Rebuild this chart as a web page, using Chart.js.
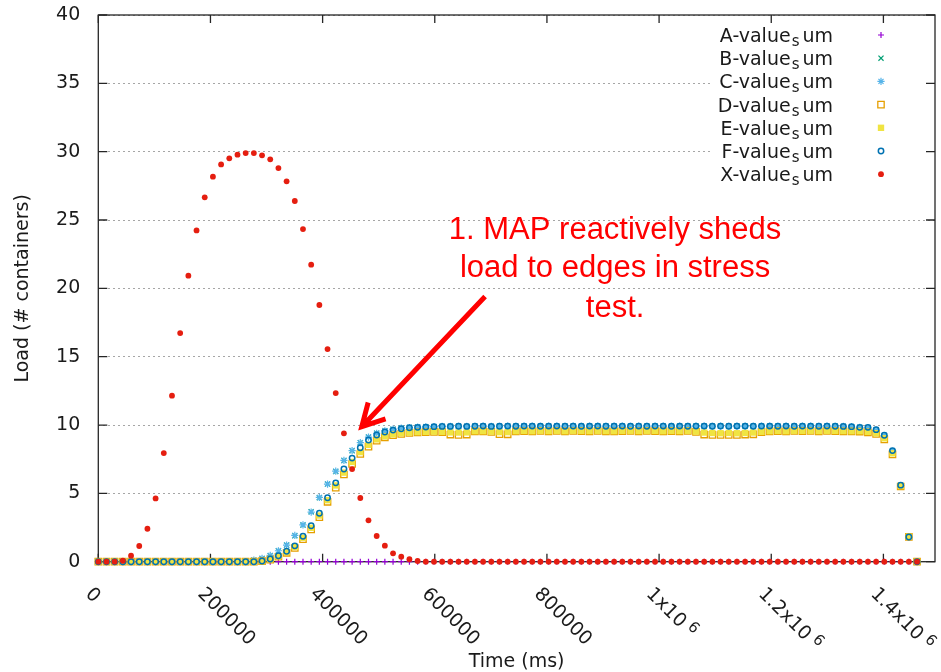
<!DOCTYPE html>
<html>
<head>
<meta charset="utf-8">
<title>Load (# containers) over time</title>
<script src="https://cdn.jsdelivr.net/npm/chart.js@4.4.1/dist/chart.umd.min.js"></script>
<style>
  html, body { margin: 0; padding: 0; background: #fff; }
  #chartWrap { width: 941px; height: 672px; }
</style>
</head>
<body>
<div id="chartWrap"><canvas id="loadChart" width="941" height="672"></canvas></div>
<script>
// sample times (ms)
const timeMs = [
  0, 14600, 29200, 43800, 58400, 73000, 87600, 102200, 116800, 131400,
  146000, 160600, 175200, 189800, 204400, 219000, 233600, 248200, 262800, 277400,
  292000, 306600, 321200, 335800, 350400, 365000, 379600, 394200, 408800, 423400,
  438000, 452600, 467200, 481800, 496400, 511000, 525600, 540200, 554800, 569400,
  584000, 598600, 613200, 627800, 642400, 657000, 671600, 686200, 700800, 715400,
  730000, 744600, 759200, 773800, 788400, 803000, 817600, 832200, 846800, 861400,
  876000, 890600, 905200, 919800, 934400, 949000, 963600, 978200, 992800, 1007400,
  1022000, 1036600, 1051200, 1065800, 1080400, 1095000, 1109600, 1124200, 1138800, 1153400,
  1168000, 1182600, 1197200, 1211800, 1226400, 1241000, 1255600, 1270200, 1284800, 1299400,
  1314000, 1328600, 1343200, 1357800, 1372400, 1387000, 1401600, 1416200, 1430800, 1445400,
  1460000
];

const aSum = [
  0, 0, 0, 0, 0, 0, 0, 0, 0, 0,
  0, 0, 0, 0, 0, 0, 0, 0, 0, 0,
  0, 0, 0, 0, 0, 0, 0, 0, 0, 0,
  0, 0, 0, 0, 0, 0, 0, 0, 0, 0,
  0, 0, 0, 0, 0, 0, 0, 0, 0, 0,
  0, 0, 0, 0, 0, 0, 0, 0, 0, 0,
  0, 0, 0, 0, 0, 0, 0, 0, 0, 0,
  0, 0, 0, 0, 0, 0, 0, 0, 0, 0,
  0, 0, 0, 0, 0, 0, 0, 0, 0, 0,
  0, 0, 0, 0, 0, 0, 0, 0, 0, 0,
  0
];

const bSum = [
  0, 0, 0, 0, 0, 0, 0, 0, 0, 0,
  0, 0, 0, 0, 0, 0, 0, 0, 0, 0.1,
  0.24, 0.44, 0.8, 1.22, 1.9, 2.68, 3.66, 4.68, 5.68, 6.6,
  7.41, 8.12, 8.71, 9.12, 9.4, 9.58, 9.7, 9.78, 9.82, 9.85,
  9.87, 9.88, 9.9, 9.9, 9.91, 9.9, 9.91, 9.92, 9.9, 9.91,
  9.92, 9.91, 9.92, 9.92, 9.91, 9.92, 9.92, 9.91, 9.92, 9.91,
  9.92, 9.92, 9.91, 9.92, 9.92, 9.91, 9.92, 9.91, 9.92, 9.92,
  9.91, 9.92, 9.91, 9.92, 9.92, 9.91, 9.92, 9.91, 9.92, 9.92,
  9.91, 9.92, 9.92, 9.91, 9.92, 9.91, 9.92, 9.92, 9.91, 9.92,
  9.91, 9.9, 9.88, 9.83, 9.81, 9.62, 9.22, 8.08, 5.57, 1.8,
  0
];

const cSum = [
  0, 0, 0, 0, 0, 0, 0, 0, 0, 0,
  0, 0, 0, 0, 0, 0, 0, 0, 0, 0.12,
  0.24, 0.46, 0.8, 1.22, 1.92, 2.7, 3.63, 4.7, 5.68, 6.62,
  7.41, 8.13, 8.71, 9.12, 9.4, 9.58, 9.7, 9.78, 9.82, 9.85,
  9.87, 9.88, 9.9, 9.9, 9.91, 9.9, 9.91, 9.92, 9.9, 9.91,
  9.92, 9.91, 9.92, 9.92, 9.91, 9.92, 9.92, 9.91, 9.92, 9.91,
  9.92, 9.92, 9.91, 9.92, 9.92, 9.91, 9.92, 9.91, 9.92, 9.92,
  9.91, 9.92, 9.91, 9.92, 9.92, 9.91, 9.92, 9.91, 9.92, 9.92,
  9.91, 9.92, 9.92, 9.91, 9.92, 9.91, 9.92, 9.92, 9.91, 9.92,
  9.91, 9.9, 9.88, 9.83, 9.81, 9.62, 9.22, 8.08, 5.57, 1.8,
  0
];

const dSum = [
  0, 0, 0, 0, 0, 0, 0, 0, 0, 0,
  0, 0, 0, 0, 0, 0, 0, 0, 0, 0,
  0.04, 0.15, 0.36, 0.65, 1.0, 1.65, 2.36, 3.25, 4.38, 5.42,
  6.38, 7.15, 7.88, 8.42, 8.85, 9.1, 9.26, 9.35, 9.42, 9.46,
  9.48, 9.5, 9.48, 9.3, 9.28, 9.3, 9.53, 9.53, 9.5, 9.33,
  9.32, 9.53, 9.55, 9.53, 9.56, 9.54, 9.56, 9.53, 9.56, 9.55,
  9.54, 9.56, 9.54, 9.53, 9.55, 9.56, 9.54, 9.56, 9.55, 9.53,
  9.55, 9.54, 9.56, 9.5, 9.3, 9.28, 9.27, 9.28, 9.27, 9.3,
  9.32, 9.48, 9.53, 9.55, 9.53, 9.56, 9.55, 9.56, 9.54, 9.56,
  9.55, 9.54, 9.53, 9.52, 9.46, 9.35, 8.95, 7.85, 5.5, 1.82,
  0
];

const eSum = [
  0, 0, 0, 0, 0, 0, 0, 0, 0, 0,
  0, 0, 0, 0, 0, 0, 0, 0, 0, 0,
  0.04, 0.17, 0.4, 0.7, 1.08, 1.75, 2.48, 3.38, 4.5, 5.58,
  6.52, 7.3, 8.02, 8.55, 8.95, 9.18, 9.32, 9.4, 9.45, 9.48,
  9.5, 9.52, 9.5, 9.46, 9.45, 9.46, 9.55, 9.55, 9.52, 9.48,
  9.48, 9.55, 9.57, 9.55, 9.58, 9.56, 9.58, 9.55, 9.58, 9.57,
  9.56, 9.58, 9.56, 9.55, 9.57, 9.58, 9.56, 9.58, 9.57, 9.55,
  9.57, 9.56, 9.58, 9.52, 9.45, 9.42, 9.4, 9.42, 9.4, 9.42,
  9.45, 9.5, 9.55, 9.57, 9.55, 9.58, 9.57, 9.58, 9.56, 9.58,
  9.57, 9.56, 9.55, 9.55, 9.5, 9.4, 9.03, 7.93, 5.54, 1.83,
  0
];

const fSum = [
  0, 0, 0, 0, 0, 0, 0, 0, 0, 0,
  0, 0, 0, 0, 0, 0, 0, 0, 0, 0,
  0.05, 0.2, 0.44, 0.76, 1.16, 1.86, 2.63, 3.54, 4.68, 5.77,
  6.78, 7.58, 8.34, 8.9, 9.27, 9.49, 9.63, 9.73, 9.8, 9.83,
  9.85, 9.88, 9.9, 9.9, 9.91, 9.9, 9.91, 9.92, 9.9, 9.91,
  9.92, 9.91, 9.92, 9.92, 9.91, 9.92, 9.92, 9.91, 9.92, 9.91,
  9.92, 9.92, 9.91, 9.92, 9.92, 9.91, 9.92, 9.91, 9.92, 9.92,
  9.91, 9.92, 9.91, 9.92, 9.92, 9.91, 9.92, 9.91, 9.92, 9.92,
  9.91, 9.92, 9.92, 9.91, 9.92, 9.91, 9.92, 9.92, 9.91, 9.92,
  9.91, 9.9, 9.88, 9.83, 9.83, 9.66, 9.25, 8.13, 5.6, 1.81,
  0
];

const xSum = [
  0, 0, 0, 0.07, 0.44, 1.15, 2.41, 4.63, 7.95, 12.15,
  16.73, 20.93, 24.24, 26.66, 28.17, 29.07, 29.51, 29.78, 29.9, 29.9,
  29.73, 29.44, 28.8, 27.83, 26.39, 24.34, 21.73, 18.78, 15.56, 12.34,
  9.39, 6.78, 4.66, 3.03, 1.88, 1.17, 0.61, 0.37, 0.18, 0.05,
  0, 0, 0, 0, 0, 0, 0, 0, 0, 0,
  0, 0, 0, 0, 0, 0, 0, 0, 0, 0,
  0, 0, 0, 0, 0, 0, 0, 0, 0, 0,
  0, 0, 0, 0, 0, 0, 0, 0, 0, 0,
  0, 0, 0, 0, 0, 0, 0, 0, 0, 0,
  0, 0, 0, 0, 0, 0, 0, 0, 0, 0,
  0
];

const seriesLabels = ['A-value_sum', 'B-value_sum', 'C-value_sum', 'D-value_sum', 'E-value_sum', 'F-value_sum', 'X-value_sum'];
const seriesValues = [aSum, bSum, cSum, dSum, eSum, fSum, xSum];

const xTickValues = [0, 200000, 400000, 600000, 800000, 1000000, 1200000, 1400000];
const xTickLabels = [['0'], ['200000'], ['400000'], ['600000'], ['800000'], ['1x10', '6'], ['1.2x10', '6'], ['1.4x10', '6']];
const yTickValues = [0, 5, 10, 15, 20, 25, 30, 35, 40];

// note: lines, centre x and baselines given in data units
const noteLines = ['1. MAP reactively sheds', 'load to edges in stress', 'test.'];
const noteX = 921500;
const noteBaselines = [23.6, 20.8, 17.94];
const arrowTail = { x: 689700, y: 19.4 };
const arrowTip = { x: 469800, y: 9.88 };

// gnuplot default palette / point types
const seriesColors = ['#9400d3', '#009e73', '#56b4e9', '#e69f00', '#f0e442', '#0072b2', '#e51e10'];
const seriesStyles = ['cross', 'crossRot', 'star', 'rect', 'rect', 'circle', 'circle'];
const seriesFilled = [false, false, false, false, true, false, true];
const seriesRadius = [3, 3.6, 3.6, 4.5, 4.5, 2.7, 2.9];
const seriesBorder = [1.2, 1.2, 1.2, 1.3, 0, 1.5, 0];

const FONT_MAIN = '19px "DejaVu Sans"';
const FONT_SMALL = '15px "DejaVu Sans"';
const INK = '#1a1a1a';

const toPoints = (vals) => timeMs.map((t, i) => ({ x: t, y: vals[i] }));

const datasets = seriesLabels.map((label, i) => ({
    label: label,
    data: toPoints(seriesValues[i]),
    pointStyle: seriesStyles[i],
    pointRadius: seriesRadius[i],
    pointHoverRadius: seriesRadius[i],
    pointBorderWidth: seriesBorder[i],
    pointBorderColor: seriesColors[i],
    pointBackgroundColor: seriesFilled[i] ? seriesColors[i] : 'rgba(0,0,0,0)',
    showLine: false,
    clip: false,
    order: seriesLabels.length - i   // later series on top, like gnuplot
}));

const gnuplotLook = {
    id: 'gnuplotLook',
    beforeDatasetsDraw(chart) {
        const { ctx, chartArea: a, scales: { x, y } } = chart;
        ctx.save();
        // key box hides the grid behind it
        ctx.fillStyle = '#fff';
        ctx.fillRect(a.right - 222, a.top + 1, 221, 170);

        ctx.strokeStyle = '#262626';
        ctx.lineWidth = 1.3;
        ctx.strokeRect(a.left, a.top, a.right - a.left, a.bottom - a.top);
        ctx.beginPath();
        for (const v of yTickValues) {
            const py = y.getPixelForValue(v);
            ctx.moveTo(a.left, py); ctx.lineTo(a.left + 9, py);
            ctx.moveTo(a.right, py); ctx.lineTo(a.right - 9, py);
        }
        for (const v of xTickValues) {
            const px = x.getPixelForValue(v);
            ctx.moveTo(px, a.bottom); ctx.lineTo(px, a.bottom - 8);
            ctx.moveTo(px, a.top); ctx.lineTo(px, a.top + 8);
        }
        ctx.stroke();
        ctx.restore();
    },
    afterDatasetsDraw(chart) {
        const { ctx, chartArea: a, scales: { x, y } } = chart;
        ctx.save();
        ctx.fillStyle = INK;

        // key
        seriesLabels.forEach((label, i) => {
            const rowY = a.top + 20 + i * 23.2;
            const [head, tail] = label.split('_');
            const sub = tail.charAt(0);
            const rest = tail.slice(1);
            ctx.font = FONT_MAIN;
            const wHead = ctx.measureText(head).width;
            const wRest = ctx.measureText(rest).width;
            ctx.font = FONT_SMALL;
            const wSub = ctx.measureText(sub).width + 4;
            const tx = a.right - 102 - (wHead + wSub + wRest);
            ctx.textAlign = 'left';
            ctx.textBaseline = 'alphabetic';
            ctx.fillStyle = INK;
            ctx.font = FONT_MAIN;
            ctx.fillText(head, tx, rowY + 7);
            ctx.font = FONT_SMALL;
            ctx.fillText(sub, tx + wHead + 1, rowY + 11);
            ctx.font = FONT_MAIN;
            ctx.fillText(rest, tx + wHead + wSub, rowY + 7);

            ctx.strokeStyle = seriesColors[i];
            ctx.fillStyle = seriesFilled[i] ? seriesColors[i] : 'rgba(0,0,0,0)';
            ctx.lineWidth = seriesBorder[i];
            Chart.helpers.drawPoint(ctx, {
                pointStyle: seriesStyles[i],
                radius: seriesRadius[i],
                rotation: 0,
                borderWidth: seriesBorder[i]
            }, a.right - 54, rowY);
        });

        // x tick labels, rotated like "set xtics rotate by -45"
        ctx.fillStyle = INK;
        xTickValues.forEach((v, i) => {
            const [main, sup] = xTickLabels[i];
            ctx.save();
            ctx.translate(x.getPixelForValue(v) - 10, a.bottom + 29.5);
            ctx.rotate(Math.PI / 4);
            ctx.textAlign = 'left';
            ctx.textBaseline = 'middle';
            ctx.font = FONT_MAIN;
            ctx.fillText(main, 0, 0);
            if (sup) {
                const w = ctx.measureText(main).width;
                ctx.font = FONT_SMALL;
                ctx.fillText(sup, w + 5, -5);
            }
            ctx.restore();
        });

        // axis titles
        ctx.font = FONT_MAIN;
        ctx.textAlign = 'center';
        ctx.textBaseline = 'alphabetic';
        ctx.fillText('Time (ms)', (a.left + a.right) / 2, 666.5);
        ctx.save();
        ctx.translate(28, (a.top + a.bottom) / 2);
        ctx.rotate(-Math.PI / 2);
        ctx.fillText('Load (# containers)', 0, 0);
        ctx.restore();

        // annotation
        ctx.fillStyle = '#ff0000';
        ctx.font = '31px "Liberation Sans"';
        noteLines.forEach((line, i) => {
            ctx.fillText(line, x.getPixelForValue(noteX), y.getPixelForValue(noteBaselines[i]));
        });

        const tx0 = x.getPixelForValue(arrowTail.x), ty0 = y.getPixelForValue(arrowTail.y);
        const tx1 = x.getPixelForValue(arrowTip.x), ty1 = y.getPixelForValue(arrowTip.y);
        const ang = Math.atan2(ty0 - ty1, tx0 - tx1);
        const barb = 25, spread = 0.5;
        ctx.strokeStyle = '#ff0000';
        ctx.lineWidth = 5;
        ctx.lineJoin = 'miter';
        ctx.beginPath();
        ctx.moveTo(tx0, ty0);
        ctx.lineTo(tx1, ty1);
        ctx.moveTo(tx1 + barb * Math.cos(ang - spread), ty1 + barb * Math.sin(ang - spread));
        ctx.lineTo(tx1, ty1);
        ctx.lineTo(tx1 + barb * Math.cos(ang + spread), ty1 + barb * Math.sin(ang + spread));
        ctx.stroke();
        ctx.restore();
    }
};

Chart.defaults.font.family = '"DejaVu Sans"';

const loadChart = new Chart(document.getElementById('loadChart'), {
    type: 'scatter',
    data: { datasets: datasets },
    options: {
        responsive: false,
        animation: false,
        devicePixelRatio: 1,
        layout: { padding: { top: 15, right: 6, left: 0, bottom: 0 } },
        plugins: {
            legend: { display: false },
            tooltip: { enabled: false }
        },
        scales: {
            x: {
                type: 'linear',
                min: 0,
                max: 1492000,
                grid: { display: false },
                border: { display: false },
                ticks: { display: false },
                afterBuildTicks: (scale) => { scale.ticks = xTickValues.map((v) => ({ value: v })); },
                afterFit: (scale) => { scale.height = 110.3; }
            },
            y: {
                type: 'linear',
                min: 0,
                max: 40,
                ticks: {
                    stepSize: 5,
                    padding: 18,
                    color: INK,
                    font: { family: '"DejaVu Sans"', size: 19 }
                },
                grid: { color: '#a6a6a6', lineWidth: 1, drawTicks: false },
                border: { display: false, dash: [2, 3] },
                afterFit: (scale) => {
                    scale.width = 98.3;
                    // the frame sits at a fixed place; drop the label overhang padding
                    scale.paddingTop = 0;
                    scale.paddingBottom = 0;
                }
            }
        }
    },
    plugins: [gnuplotLook]
});
</script>
</body>
</html>
